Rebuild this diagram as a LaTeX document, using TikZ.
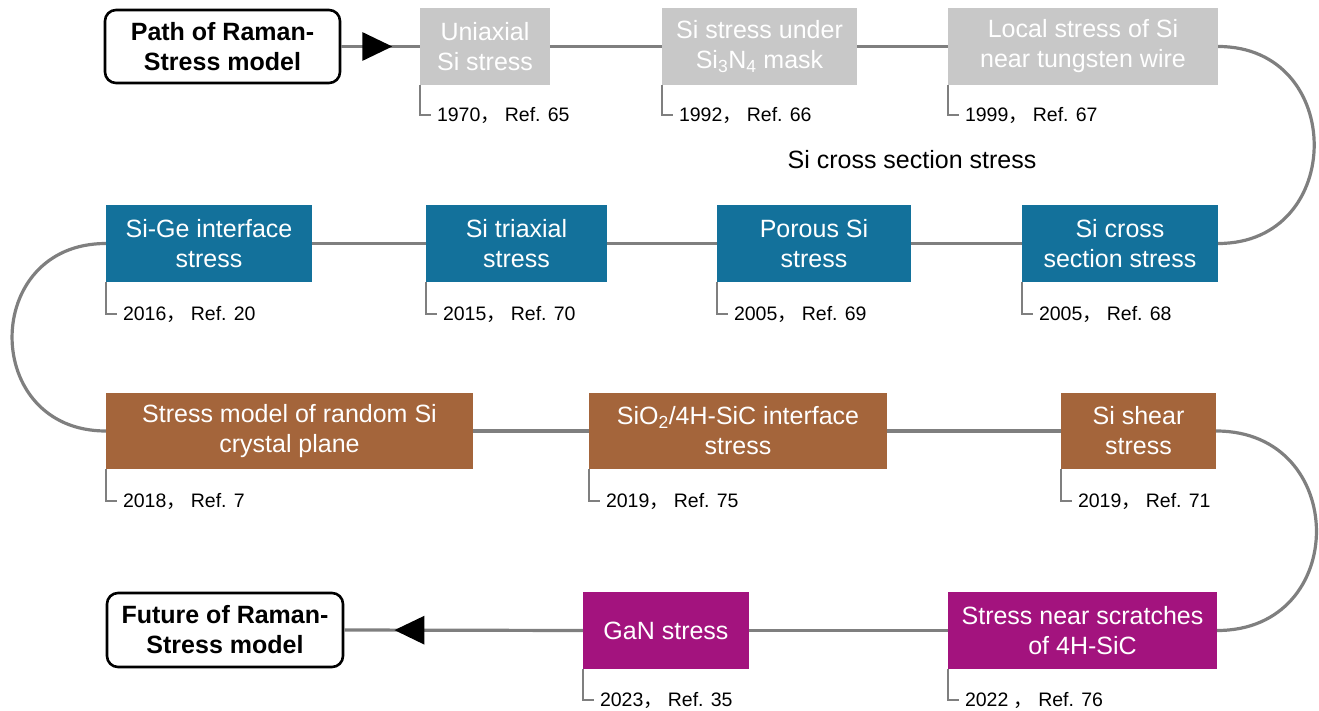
\documentclass[tikz,border=0pt]{standalone}
\usepackage{fontspec}
\setmainfont{Liberation Sans}
\newfontfamily\cjk{Noto Sans CJK SC}
\usetikzlibrary{arrows.meta,decorations.markings}
\definecolor{cgray}{HTML}{C8C8C8}
\definecolor{cblue}{HTML}{13719B}
\definecolor{cbrown}{HTML}{A4653B}
\definecolor{cmag}{HTML}{A3137E}
\definecolor{cline}{HTML}{7F7F7F}
\newcommand{\cm}{{\cjk ，}\hspace{5pt}}
\begin{document}
\begin{tikzpicture}[x=1pt,y=-1pt,
  box/.style={text=white, align=center, inner sep=0pt, minimum height=77pt,
    font=\fontsize{25}{30}\selectfont},
  graybox/.style={box, fill=cgray},
  bluebox/.style={box, fill=cblue},
  brownbox/.style={box, fill=cbrown},
  magbox/.style={box, fill=cmag},
  endbox/.style={draw=black, line width=2.6pt, fill=white, rounded corners=11pt,
    align=center, inner sep=0pt, font=\fontsize{25}{30}\selectfont\bfseries},
  conn/.style={draw=cline, line width=3.2pt},
  bracket/.style={draw=cline, line width=2.2pt},
  datelbl/.style={anchor=west, inner sep=0pt, text=black, font=\fontsize{19.5}{23}\selectfont},
  midarrow/.style={postaction={decorate, decoration={markings,
    mark=at position #1 with {\arrow{Triangle[length=30pt,width=28pt,color=black]}}}}}
]
\useasboundingbox (0,0) rectangle (1319,711);

% start / end
\node[endbox, minimum width=235pt, minimum height=73pt] (start) at (222.5,46.5) {Path of Raman-\\Stress model};
\node[endbox, minimum width=236pt, minimum height=74pt] (fut) at (225,630) {Future of Raman-\\Stress model};

% row 1
\node[graybox, minimum width=130pt] (uni) at (485,46.5) {Uniaxial\\Si stress};
\node[graybox, minimum width=195pt] (sin) at (759.5,46.5) {Si stress under\\Si\textsubscript{3}N\textsubscript{4} mask};
\node[graybox, minimum width=270pt] (loc) at (1083,46.5) {Local stress of Si\\near tungsten wire};

% row 2
\node[bluebox, minimum width=206pt] (sige) at (209,243.5) {Si-Ge interface\\stress};
\node[bluebox, minimum width=181pt] (tri) at (516.5,243.5) {Si triaxial\\stress};
\node[bluebox, minimum width=194pt] (por) at (814,243.5) {Porous Si\\stress};
\node[bluebox, minimum width=196pt] (scr) at (1120,243.5) {Si cross\\section stress};

% row 3
\node[brownbox, minimum width=367pt, minimum height=76pt] (mod) at (289.5,431) {Stress model of random Si\\crystal plane};
\node[brownbox, minimum width=298pt, minimum height=76pt] (sio) at (738,431) {SiO\textsubscript{2}/4H-SiC interface\\stress};
\node[brownbox, minimum width=155pt, minimum height=76pt] (she) at (1138.5,431) {Si shear\\stress};

% row 4
\node[magbox, minimum width=166pt] (gan) at (666,630.5) {GaN stress};
\node[magbox, minimum width=269pt] (scratch) at (1082.5,630.5) {Stress near scratches\\of 4H-SiC};

% free label
\node[text=black, inner sep=0pt, font=\fontsize{25}{30}\selectfont] (freelbl) at (912,160) {Si cross section stress};

% connectors
\draw[conn, midarrow=0.65] (start.east) -- (uni.west);
\draw[conn] (uni.east) -- (sin.west);
\draw[conn] (sin.east) -- (loc.west);
\draw[conn] (loc.east) .. controls +(128,0) and +(128,0) .. (scr.east);
\draw[conn] (scr.west) -- (por.east);
\draw[conn] (por.west) -- (tri.east);
\draw[conn] (tri.west) -- (sige.east);
\draw[conn] (sige.west) .. controls +(-125,0) and +(-125,0) .. (mod.west);
\draw[conn] (mod.east) -- (sio.west);
\draw[conn] (sio.east) -- (she.west);
\draw[conn] (she.east) .. controls +(133,0) and +(133,0) .. (scratch.east);
\draw[conn] (scratch.west) -- (gan.east);
\draw[conn, midarrow=0.79] (gan.west) -- (fut.east);

% dates
\node[datelbl] (d1) at ([xshift=17pt,yshift=-30pt]uni.south west) {1970\cm Ref. 65};
\node[datelbl] (d2) at ([xshift=17pt,yshift=-30pt]sin.south west) {1992\cm Ref. 66};
\node[datelbl] (d3) at ([xshift=17pt,yshift=-30pt]loc.south west) {1999\cm Ref. 67};
\node[datelbl] (d4) at ([xshift=17pt,yshift=-32pt]sige.south west) {2016\cm Ref. 20};
\node[datelbl] (d5) at ([xshift=17pt,yshift=-32pt]tri.south west) {2015\cm Ref. 70};
\node[datelbl] (d6) at ([xshift=17pt,yshift=-32pt]por.south west) {2005\cm Ref. 69};
\node[datelbl] (d7) at ([xshift=17pt,yshift=-32pt]scr.south west) {2005\cm Ref. 68};
\node[datelbl] (d8) at ([xshift=17pt,yshift=-32pt]mod.south west) {2018\cm Ref. 7};
\node[datelbl] (d9) at ([xshift=17pt,yshift=-32pt]sio.south west) {2019\cm Ref. 75};
\node[datelbl] (d10) at ([xshift=17pt,yshift=-32pt]she.south west) {2019\cm Ref. 71};
\node[datelbl] (d11) at ([xshift=17pt,yshift=-31pt]gan.south west) {2023\cm Ref. 35};
\node[datelbl] (d12) at ([xshift=17pt,yshift=-31pt]scratch.south west) {2022\ \cm Ref. 76};

\foreach \b/\d in {uni/d1,sin/d2,loc/d3,sige/d4,tri/d5,por/d6,scr/d7,mod/d8,sio/d9,she/d10,gan/d11,scratch/d12}
  \draw[bracket] (\b.south west) |- ([xshift=-6pt]\d.west);
\end{tikzpicture}
\end{document}
